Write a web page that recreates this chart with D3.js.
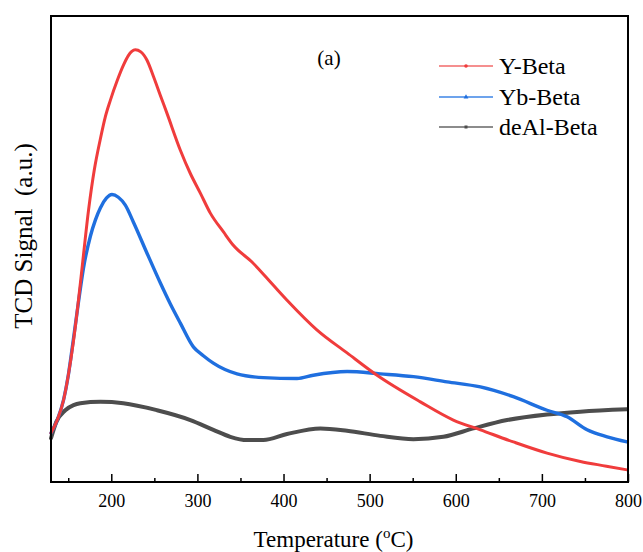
<!DOCTYPE html>
<html>
<head>
<meta charset="utf-8">
<script src="https://cdn.jsdelivr.net/npm/d3@7"></script>
<style>
  html, body { margin: 0; padding: 0; background: #fff; }
  svg { display: block; }
  svg text { font-family: "Liberation Serif", "Times New Roman", serif; }
</style>
</head>
<body>
<svg id="chart" width="643" height="552"></svg>
<script>
// TPD profiles: temperature (°C) and TCD signal (a.u.)
const yBetaT = [130, 137.3, 144.6, 150.1, 155.9, 161.9, 166.4, 173.7, 180.3, 187.3, 193, 198.9, 207.0, 214.0, 219.8, 223.8, 227.9, 234.3, 241.5, 249.2, 256.9, 264.7, 280.2, 291.8, 303.4, 315, 330.5, 341.7, 363.4, 388.2, 404.1, 439, 473.8, 508.6, 558.9, 597.2, 628.6, 666.9, 706, 744.7, 775, 799];
const yBetaV = [10.5, 13.3, 17.6, 22.9, 30.0, 39.0, 46.5, 58.5, 67.0, 73.6, 78.3, 81.9, 86.2, 89.4, 91.5, 92.4, 92.75, 92.3, 90.5, 86.9, 83.0, 79.1, 71.2, 66.2, 62.0, 57.7, 53.6, 50.8, 47.2, 42.2, 39.0, 32.6, 27.7, 22.9, 17.2, 13.3, 11.2, 8.6, 6.2, 4.4, 3.4, 2.6];

const ybBetaT = [130, 137.3, 144.6, 150.1, 155.9, 161.9, 167.7, 175.8, 181.5, 187.3, 194.3, 200.8, 208.2, 216.3, 225.6, 241.5, 257, 268.6, 280.2, 295.3, 306.9, 318.5, 346, 376.6, 415.7, 434.6, 473.8, 512.5, 550.8, 589.9, 628.6, 666.9, 706, 729.3, 752.5, 775.8, 799];
const ybBetaV = [10.5, 13.3, 17.6, 22.9, 30.5, 38.6, 45.9, 52.8, 56.2, 58.8, 60.9, 61.7, 61.1, 59.4, 55.8, 49.1, 42.7, 38.2, 34.1, 29.0, 27.1, 25.5, 23.2, 22.4, 22.2, 22.9, 23.7, 23.2, 22.6, 21.5, 20.4, 18.3, 15.4, 14.0, 11.2, 9.7, 8.6];

const deAlBetaT = [130, 136.2, 146.6, 156.2, 164, 187.3, 214, 253.1, 291.8, 318.5, 338.2, 357.6, 376.6, 404.1, 442.8, 473.8, 512.5, 550.8, 585.6, 620.5, 659.6, 706, 744.7, 799];
const deAlBetaV = [9.4, 12.9, 15.4, 16.5, 16.9, 17.2, 16.9, 15.4, 13.3, 11.2, 9.7, 9.0, 9.0, 10.3, 11.5, 11.0, 9.9, 9.2, 9.7, 11.5, 13.3, 14.5, 15.1, 15.6];

const seriesNames = ["Y-Beta", "Yb-Beta", "deAl-Beta"];
const seriesColors = ["#f03c3c", "#1f6fdf", "#4d4d4d"];
const legendColors = ["#f26a6a", "#3d84e6", "#666666"];
const majorTicks = [200, 300, 400, 500, 600, 700, 800];
const minorTicks = [150, 250, 350, 450, 550, 650, 750];

(function draw() {
  const serif = "'Liberation Serif', 'Times New Roman', serif";
  const svg = d3.select("#chart");
  const x0 = 51, x1 = 628, y0 = 16, y1 = 482;

  const x = d3.scaleLinear().domain([130, 800]).range([x0, x1]);
  const y = d3.scaleLinear().domain([0, 100]).range([y1, y0]);

  const series = [
    { T: yBetaT, V: yBetaV, w: 3 },
    { T: ybBetaT, V: ybBetaV, w: 3.4 },
    { T: deAlBetaT, V: deAlBetaV, w: 4 }
  ];

  const line = d3.line()
    .x(d => x(d[0]))
    .y(d => y(d[1]))
    .curve(d3.curveMonotoneX);

  // curves, grey first so the coloured traces sit on top
  [2, 1, 0].forEach(i => {
    const s = series[i];
    const pts = s.T.map((t, k) => [t, s.V[k]]);
    svg.append("path")
      .attr("d", line(pts))
      .attr("fill", "none")
      .attr("stroke", seriesColors[i])
      .attr("stroke-width", s.w)
      .attr("stroke-linejoin", "round")
      .attr("stroke-linecap", "round");
  });

  // bottom axis with inward ticks
  const xAxis = d3.axisBottom(x)
    .tickValues(majorTicks)
    .tickSizeInner(-8)
    .tickSizeOuter(0)
    .tickPadding(12)
    .tickFormat(d3.format("d"));

  const gx = svg.append("g").attr("transform", `translate(0,${y1})`).call(xAxis);
  gx.attr("font-family", null).attr("font-size", null);
  gx.select(".domain").remove();
  gx.selectAll(".tick line").attr("stroke", "#000").attr("stroke-width", 1.5);
  gx.selectAll(".tick text")
    .style("font-family", serif).style("font-size", "18px").attr("fill", "#000");

  const xMinor = d3.axisBottom(x).tickValues(minorTicks).tickSizeInner(-4).tickSizeOuter(0).tickFormat("");
  const gm = svg.append("g").attr("transform", `translate(0,${y1})`).call(xMinor);
  gm.select(".domain").remove();
  gm.selectAll(".tick line").attr("stroke", "#000").attr("stroke-width", 1.5);

  // frame
  svg.append("rect")
    .attr("x", x0).attr("y", y0)
    .attr("width", x1 - x0).attr("height", y1 - y0)
    .attr("fill", "none").attr("stroke", "#000").attr("stroke-width", 2);

  // axis titles
  const xt = svg.append("text")
    .attr("x", (x0 + x1) / 2 - 6).attr("y", 547)
    .attr("text-anchor", "middle").style("font-family", serif).style("font-size", "23px").attr("fill", "#000");
  xt.append("tspan").text("Temperature (");
  xt.append("tspan").style("font-size", "15px").attr("dy", -9).text("o");
  xt.append("tspan").attr("dy", 9).text("C)");

  svg.append("text")
    .attr("transform", "translate(32,236) rotate(-90)")
    .attr("text-anchor", "middle").style("font-family", serif).style("font-size", "25px").attr("fill", "#000")
    .attr("xml:space", "preserve")
    .style("white-space", "pre")
    .text("TCD Signal  (a.u.)");

  // panel label
  svg.append("text")
    .attr("x", 329).attr("y", 65)
    .attr("text-anchor", "middle").style("font-family", serif).style("font-size", "21px").attr("fill", "#000")
    .text("(a)");

  // legend
  const legendY = [66, 97, 127];
  const lg = svg.append("g");
  seriesNames.forEach((name, i) => {
    const ly = legendY[i];
    lg.append("line")
      .attr("x1", 439).attr("x2", 493).attr("y1", ly).attr("y2", ly)
      .attr("stroke", legendColors[i]).attr("stroke-width", 1.3);
    if (i === 0) {
      lg.append("circle").attr("cx", 466).attr("cy", ly).attr("r", 1.8).attr("fill", seriesColors[i]);
    } else if (i === 1) {
      lg.append("path").attr("d", d3.symbol(d3.symbolTriangle, 10)()).attr("transform", `translate(466,${ly})`).attr("fill", seriesColors[i]);
    } else {
      lg.append("rect").attr("x", 464.5).attr("y", ly - 1.5).attr("width", 3).attr("height", 3).attr("fill", seriesColors[i]);
    }
    lg.append("text")
      .attr("x", 499).attr("y", ly + 8)
      .style("font-family", serif).style("font-size", "24px").attr("fill", "#000")
      .text(name);
  });
})();
</script>
</body>
</html>
